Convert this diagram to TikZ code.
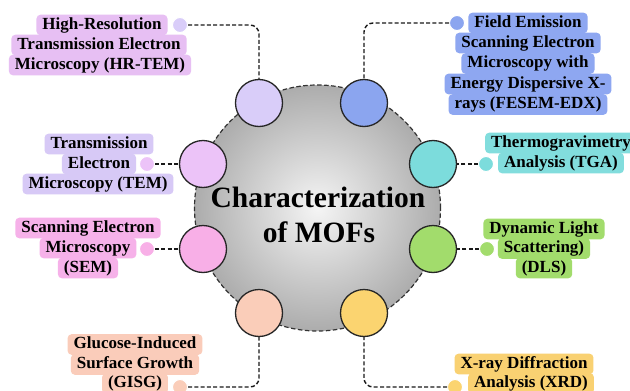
\documentclass[tikz,border=0pt]{standalone}
\usepackage{fontspec}
\setmainfont{Liberation Serif}
\definecolor{cHR}{HTML}{D9CDF9}
\definecolor{lHR}{HTML}{E7BFF3}
\definecolor{cTEM}{HTML}{ECC3F8}
\definecolor{lTEM}{HTML}{D7C9F6}
\definecolor{cSEM}{HTML}{F8AFE7}
\definecolor{lSEM}{HTML}{F6B1E9}
\definecolor{cGI}{HTML}{FACDB9}
\definecolor{lGI}{HTML}{FACCBA}
\definecolor{cXR}{HTML}{FBD470}
\definecolor{lXR}{HTML}{F9D172}
\definecolor{cDL}{HTML}{A2DC6C}
\definecolor{lDL}{HTML}{A2DC6C}
\definecolor{cTG}{HTML}{7CDCDC}
\definecolor{lTG}{HTML}{82DDDD}
\definecolor{cFE}{HTML}{8BA5EF}
\definecolor{lFE}{HTML}{8EA7F1}
\begin{document}
\begin{tikzpicture}[x=1pt,y=-1pt,
  lbl/.style={fill=#1, rounded corners=4pt, inner xsep=6pt, inner ysep=0pt,
    minimum height=20.6pt, text height=11.8pt, text depth=3.6pt,
    font=\bfseries\fontsize{17}{20}\selectfont},
  mc/.style={circle, draw=black!85, line width=1.3pt, fill=#1,
    minimum size=47pt, inner sep=0pt},
  ldot/.style={circle, fill=#1, draw=white, line width=1pt,
    minimum size=15pt, inner sep=0pt},
  conn/.style={draw=black!90, line width=1.4pt, dash pattern=on 4pt off 2.3pt,
    rounded corners=9pt},
  bigc/.style={circle, inner color=gray!8, outer color=gray!65,
    draw=black!80, line width=1.2pt, dash pattern=on 4.5pt off 2.5pt,
    minimum size=246pt, inner sep=0pt},
  ttl/.style={font=\bfseries\fontsize{29.5}{35}\selectfont, anchor=base, inner sep=0pt}]
\useasboundingbox (0,0) rectangle (630,391);
\fill[white] (0,0) rectangle (630,391);

% central circle
\node[bigc] (mof) at (317.5,208) {};
\node[ttl] (title1) at (318,207) {Characterization};
\node[ttl] (title2) at (319,242) {of MOFs};

% satellite circles
\node[mc=cHR]  (hrc)  at (259,103) {};
\node[mc=cFE]  (fec)  at (364,103) {};
\node[mc=cTEM] (temc) at (203,164) {};
\node[mc=cTG]  (tgc)  at (433,164) {};
\node[mc=cSEM] (semc) at (203,249) {};
\node[mc=cDL]  (dlc)  at (433,249) {};
\node[mc=cGI]  (gic)  at (259,313) {};
\node[mc=cXR]  (xrc)  at (364,313) {};

% labels: HR-TEM
\node[lbl=lHR] (hr3) at (100,65) {Microscopy (HR-TEM)};
\node[lbl=lHR] (hr2) at (99,45) {Transmission Electron};
\node[lbl=lHR] (hr1) at (102,25) {High-Resolution};
% TEM
\node[lbl=lTEM] (tem3) at (98,184) {Microscopy (TEM)};
\node[lbl=lTEM] (tem1) at (99,144) {Transmission};
\node[lbl=lTEM] (tem2) at (99,164) {Electron};
% SEM
\node[lbl=lSEM] (sem1) at (88,228) {Scanning Electron};
\node[lbl=lSEM] (sem3) at (88,268) {(SEM)};
\node[lbl=lSEM] (sem2) at (88,248) {Microscopy};
% GISG
\node[lbl=lGI] (gi1) at (135,344.5) {Glucose-Induced};
\node[lbl=lGI] (gi2) at (135,364.5) {Surface Growth};
\node[lbl=lGI] (gi3) at (135,383.5) {(GISG)};
% XRD
\node[lbl=lXR] (xr1) at (524,364) {X-ray Diffraction};
\node[lbl=lXR] (xr2) at (531,383.5) {Analysis (XRD)};
% DLS
\node[lbl=lDL] (dl1) at (544,229) {Dynamic Light};
\node[lbl=lDL] (dl3) at (544,268) {(DLS)};
\node[lbl=lDL] (dl2) at (544,248.5) {Scattering)};
% TGA
\node[lbl=lTG] (tg1) at (561,143) {Thermogravimetry};
\node[lbl=lTG] (tg2) at (561,163) {Analysis (TGA)};
% FESEM
\node[lbl=lFE] (fe4) at (528,84) {Energy Dispersive X-};
\node[lbl=lFE] (fe5) at (528,104.5) {rays (FESEM-EDX)};
\node[lbl=lFE] (fe2) at (528,43) {Scanning Electron};
\node[lbl=lFE] (fe3) at (528,63.5) {Microscopy with};
\node[lbl=lFE] (fe1) at (528,23) {Field Emission};

% dots
\node[ldot=cHR]  (hrd)  at (180,25) {};
\node[ldot=cFE]  (fed)  at (457,23) {};
\node[ldot=cTEM] (temd) at (147,164) {};
\node[ldot=cTG]  (tgd)  at (486,164) {};
\node[ldot=cSEM] (semd) at (147,249) {};
\node[ldot=cDL]  (dld)  at (487,249) {};
\node[ldot=cGI]  (gid)  at (180,387) {};
\node[ldot=cXR]  (xrd)  at (455,387) {};

% connectors
\draw[conn] (hrd.east) -| (hrc.north);
\draw[conn] (fed.west) -| (fec.north);
\draw[conn] (temd.east) -- (temc.west);
\draw[conn] (semd.east) -- (semc.west);
\draw[conn] (tgd.west) -- (tgc.east);
\draw[conn] (dld.west) -- (dlc.east);
\draw[conn] (gid.east) -| (gic.south);
\draw[conn] (xrd.west) -| (xrc.south);
\end{tikzpicture}
\end{document}
